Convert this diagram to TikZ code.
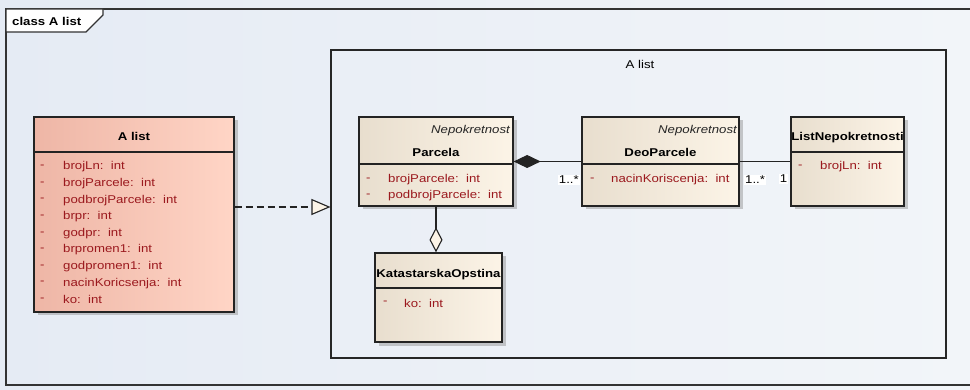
\documentclass[tikz,border=0pt]{standalone}
\usepackage{fontspec}
\setmainfont{Liberation Sans}[FakeStretch=1.17]
\usetikzlibrary{arrows.meta,shadows}
\definecolor{bgA}{RGB}{229,235,244}
\definecolor{bgB}{RGB}{242,245,249}
\definecolor{attrred}{RGB}{155,25,30}
\definecolor{creamL}{RGB}{232,222,206}
\definecolor{creamR}{RGB}{252,244,231}
\definecolor{salmonL}{RGB}{238,182,166}
\definecolor{salmonR}{RGB}{255,213,198}
\definecolor{edgegray}{RGB}{35,35,35}
\newcommand\umlfs{\fontsize{11.3}{13}\selectfont}
\begin{document}
\begin{tikzpicture}[x=1pt,y=-1pt,
  every node/.style={font=\umlfs, inner sep=0pt},
  umlclass/.style={draw=edgegray, line width=1.3pt, inner sep=0pt,
    drop shadow={shadow xshift=3.5pt,shadow yshift=-3.5pt,fill=black!45,opacity=.45}},
  creambox/.style={umlclass, left color=creamL, right color=creamR},
  salmonbox/.style={umlclass, left color=salmonL, right color=salmonR},
  hdrline/.style={draw=edgegray, line width=1.3pt},
  ctitle/.style={font=\umlfs\bfseries, text=black},
  stereo/.style={font=\umlfs\itshape, text=black!85, anchor=east},
  attrdash/.style={text=attrred, anchor=west},
  attrtext/.style={text=attrred, anchor=west},
  mult/.style={fill=white, inner sep=1pt, text=black},
  conn/.style={draw=edgegray, line width=1.1pt},
  pkgbox/.style={draw=black!85, line width=1.1pt, inner sep=0pt},
]
\useasboundingbox (0,0) rectangle (970,390);
\clip (0,0) rectangle (970,390);
\shade[left color=bgA, right color=bgB] (0,0) rectangle (970,390);

% diagram frame
\draw[black!80, line width=1.2pt] (990,9) -- (6,9) -- (6,385) -- (990,385);
\filldraw[fill=white, draw=black!80, line width=1.1pt]
  (6,9) -- (103,9) -- (103,15) -- (86,32) -- (6,32) -- cycle;
\node[font=\umlfs\bfseries, anchor=west] (frametitle) at (12,21) {class A list};

% package
\node[pkgbox, minimum width=615pt, minimum height=308pt] (pkg) at (638.5,204) {};
\node (pkgtitle) at (640,64) {A list};

% A list class
\node[salmonbox, minimum width=200pt, minimum height=195pt] (alist) at (134,214.5) {};
\draw[hdrline] (34,152) -- (234,152);
\node[ctitle] (alistT) at (134,136) {A list};
\foreach \t [count=\i from 0] in {brojLn,brojParcele,podbrojParcele,brpr,godpr,brpromen1,godpromen1,nacinKoricsenja,ko}{
  \node[attrdash] (alistD\i) at (40,167+16.6*\i) {-};
  \node[attrtext] (alistA\i) at (63,167+16.6*\i) {\t:~~int};
}

% Parcela
\node[creambox, minimum width=154pt, minimum height=89pt] (parcela) at (436,161.5) {};
\draw[hdrline] (359,164) -- (513,164);
\node[stereo] (parcelaS) at (510,131) {Nepokretnost};
\node[ctitle] (parcelaT) at (436,152) {Parcela};
\node[attrdash] (parcelaD1) at (366,180) {-};
\node[attrtext] (parcelaA1) at (388,180) {brojParcele:~~int};
\node[attrdash] (parcelaD2) at (366,196) {-};
\node[attrtext] (parcelaA2) at (388,196) {podbrojParcele:~~int};

% DeoParcele
\node[creambox, minimum width=157pt, minimum height=89pt] (deo) at (660.5,161.5) {};
\draw[hdrline] (582,164) -- (739,164);
\node[stereo] (deoS) at (737,131) {Nepokretnost};
\node[ctitle] (deoT) at (660.5,152) {DeoParcele};
\node[attrdash] (deoD1) at (590,180) {-};
\node[attrtext] (deoA1) at (611,180) {nacinKoriscenja:~~int};

% ListNepokretnosti
\node[creambox, minimum width=113pt, minimum height=89pt] (lst) at (847.5,161.5) {};
\draw[hdrline] (791,152) -- (904,152);
\node[ctitle] (lstT) at (847.5,138) {ListNepokretnosti};
\node[attrdash] (lstD1) at (798,167) {-};
\node[attrtext] (lstA1) at (820,167) {brojLn:~~int};

% KatastarskaOpstina
\node[creambox, minimum width=127pt, minimum height=89pt] (kat) at (438.5,297.5) {};
\draw[hdrline] (375,288) -- (502,288);
\node[ctitle] (katT) at (438.5,275) {KatastarskaOpstina};
\node[attrdash] (katD1) at (383,303) {-};
\node[attrtext] (katA1) at (404,303) {ko:~~int};

% connectors
\draw[conn, {Diamond[length=27pt,width=13pt]}-] (parcela.east) -- (deo.west);
\node[mult, anchor=east] (m1) at (580,180) {1..*};
\draw[conn] (deo.east) -- (lst.west);
\node[mult, anchor=west] (m2) at (744,180) {1..*};
\node[mult] (m3) at (783.5,179) {1};
\draw[conn, -{Diamond[length=25pt,width=13pt,fill=creamR]}] (parcela.south) -- (kat.north -| parcela.south);
\coordinate (rs) at ([yshift=7.5pt]alist.east);
\draw[conn, dash pattern=on 7pt off 4pt, -{Triangle[length=19pt,width=16pt,fill=creamR]}] (rs) -- (rs -| pkg.west);
\end{tikzpicture}
\end{document}
